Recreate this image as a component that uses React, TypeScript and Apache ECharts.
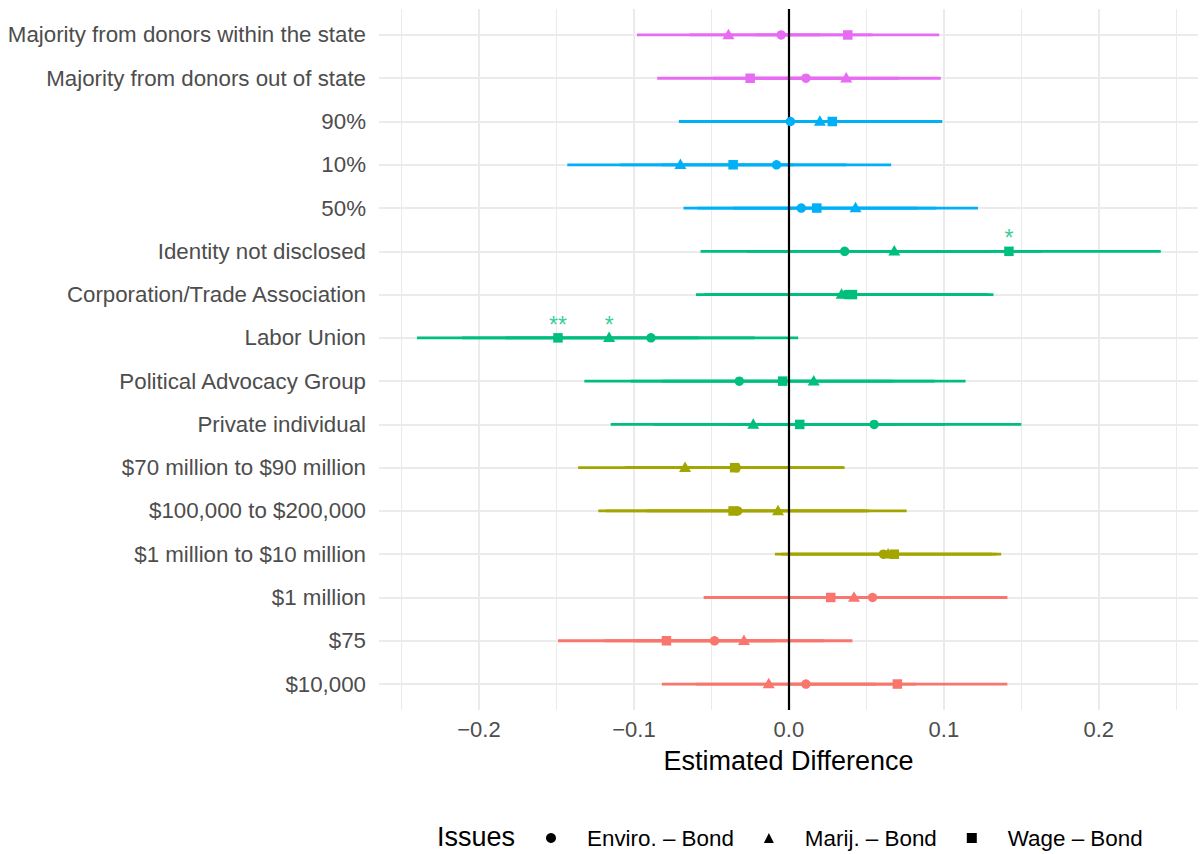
import React, { useEffect, useRef } from "react";
import * as echarts from "echarts";

// Rows, listed top to bottom
const rows = [
  "Majority from donors within the state",
  "Majority from donors out of state",
  "90%",
  "10%",
  "50%",
  "Identity not disclosed",
  "Corporation/Trade Association",
  "Labor Union",
  "Political Advocacy Group",
  "Private individual",
  "$70 million to $90 million",
  "$100,000 to $200,000",
  "$1 million to $10 million",
  "$1 million",
  "$75",
  "$10,000",
];
// Colour group of each row
const groupColors = ["#E76BF3", "#00B0F6", "#00BF7D", "#A3A500", "#F8766D"];
const rowGroup = [0, 0, 1, 1, 1, 2, 2, 2, 2, 2, 3, 3, 3, 4, 4, 4];

const issues = ["Enviro. – Bond", "Marij. – Bond", "Wage – Bond"];
const issueSymbols = ["circle", "triangle", "rect"];

// Enviro. – Bond
const enviroEst = [-0.005, 0.011, 0.001, -0.008, 0.008, 0.036, 0.037, -0.089, -0.032, 0.055, -0.034, -0.033, 0.061, 0.054, -0.048, 0.011];
const enviroLo = [-0.064, -0.049, -0.071, -0.082, -0.068, -0.057, -0.055, -0.183, -0.132, -0.040, -0.105, -0.118, -0.009, -0.032, -0.119, -0.060];
const enviroHi = [0.054, 0.071, 0.073, 0.066, 0.083, 0.129, 0.129, 0.006, 0.067, 0.150, 0.036, 0.052, 0.131, 0.141, 0.023, 0.082];
// Marij. – Bond
const marijEst = [-0.039, 0.037, 0.020, -0.070, 0.043, 0.068, 0.034, -0.116, 0.016, -0.023, -0.067, -0.007, 0.064, 0.042, -0.029, -0.013];
const marijLo = [-0.098, -0.024, -0.052, -0.143, -0.036, -0.027, -0.060, -0.211, -0.082, -0.115, -0.136, -0.092, -0.005, -0.043, -0.100, -0.082];
const marijHi = [0.020, 0.098, 0.092, 0.003, 0.122, 0.163, 0.128, -0.022, 0.114, 0.070, 0.002, 0.076, 0.134, 0.127, 0.041, 0.056];
// Wage – Bond
const wageEst = [0.038, -0.025, 0.028, -0.036, 0.018, 0.142, 0.041, -0.149, -0.004, 0.007, -0.035, -0.036, 0.068, 0.027, -0.079, 0.070];
const wageLo = [-0.021, -0.085, -0.043, -0.109, -0.059, 0.045, -0.051, -0.240, -0.102, -0.087, -0.106, -0.123, -0.001, -0.055, -0.149, -0.001];
const wageHi = [0.097, 0.035, 0.099, 0.037, 0.095, 0.240, 0.132, -0.058, 0.094, 0.101, 0.035, 0.050, 0.137, 0.110, -0.009, 0.141];

// Significance stars: [row index, issue index, stars]
const stars: [number, number, string][] = [
  [5, 2, "*"],
  [7, 2, "**"],
  [7, 1, "*"],
];

const xTicks = [-0.2, -0.1, 0, 0.1, 0.2];
const xMinor = [-0.25, -0.15, -0.05, 0.05, 0.15, 0.25];
const X_MIN = -0.2645;
const X_MAX = 0.264;

const FONT = "'Liberation Sans', Arial, Helvetica, sans-serif";

export default function App() {
  const ref = useRef<HTMLDivElement>(null);

  useEffect(() => {
    if (!ref.current) return;
    const chart = echarts.init(ref.current, undefined, { renderer: "svg" });
    const n = rows.length;
    const yOf = (i: number) => n - 1 - i;
    const ests = [enviroEst, marijEst, wageEst];
    const los = [enviroLo, marijLo, wageLo];
    const his = [enviroHi, marijHi, wageHi];

    const ciData: number[][] = [];
    for (let k = 0; k < 3; k++) {
      for (let i = 0; i < n; i++) {
        ciData.push([los[k][i], his[k][i], yOf(i), rowGroup[i]]);
      }
    }

    const pointSeries = [0, 1, 2].map((k) => ({
      name: issues[k],
      type: "scatter",
      symbol: issueSymbols[k],
      symbolSize: k === 1 ? [12, 10.5] : 9.5,
      symbolOffset: k === 1 ? [0, -1] : [0, 0],
      itemStyle: { color: "#000000", opacity: 1 },
      z: 10,
      silent: true,
      data: ests[k].map((v, i) => ({
        value: [v, yOf(i)],
        itemStyle: { color: groupColors[rowGroup[i]] },
      })),
    }));

    const option: any = {
      animation: false,
      textStyle: { fontFamily: FONT },
      grid: { left: 379, right: 2, top: 9, bottom: 144, containLabel: false },
      title: {
        text: "Issues",
        left: 437,
        top: 823,
        padding: 0,
        textStyle: { fontSize: 27, fontWeight: "normal", color: "#000", fontFamily: FONT },
      },
      legend: {
        data: issues.map((nm, k) => ({ name: nm, icon: issueSymbols[k] })),
        left: 546,
        top: 827,
        padding: 0,
        itemWidth: 10,
        itemHeight: 10,
        itemGap: 30,
        selectedMode: false,
        textStyle: { fontSize: 22.4, color: "#000", fontFamily: FONT, padding: [0, 0, 0, 26] },
      },
      xAxis: {
        type: "value",
        min: X_MIN,
        max: X_MAX,
        axisLine: { show: false },
        axisTick: { show: false },
        splitLine: { show: false },
        axisLabel: {
          customValues: xTicks,
          fontSize: 22,
          color: "#4D4D4D",
          margin: 8,
          fontFamily: FONT,
          formatter: (v: number) => v.toFixed(1).replace("-", "\u2212"),
        },
        name: "Estimated Difference",
        nameLocation: "middle",
        nameGap: 37,
        nameTextStyle: { fontSize: 27, color: "#000", fontFamily: FONT },
      },
      yAxis: {
        type: "value",
        min: -0.6,
        max: n - 1 + 0.6,
        axisLine: { show: false },
        axisTick: { show: false },
        splitLine: { show: false },
        axisLabel: {
          customValues: rows.map((_, i) => yOf(i)),
          fontSize: 22.3,
          color: "#4D4D4D",
          margin: 13,
          fontFamily: FONT,
          formatter: (v: number) => rows[n - 1 - Math.round(v)],
        },
      },
      series: [
        {
          type: "scatter",
          data: [],
          silent: true,
          z: 0,
          markLine: {
            silent: true,
            z: 0,
            symbol: ["none", "none"],
            label: { show: false },
            animation: false,
            data: [
              ...xMinor.map((v) => ({ xAxis: v, lineStyle: { color: "#EBEBEB", width: 1, type: "solid" } })),
              ...xTicks.map((v) => ({ xAxis: v, lineStyle: { color: "#EBEBEB", width: 2, type: "solid" } })),
              ...rows.map((_, i) => ({ yAxis: yOf(i), lineStyle: { color: "#EBEBEB", width: 2, type: "solid" } })),
            ],
          },
        },
        {
          type: "custom",
          silent: true,
          z: 3,
          encode: { x: [0, 1], y: 2 },
          data: ciData,
          renderItem: (params: any, api: any) => {
            const p1 = api.coord([api.value(0), api.value(2)]);
            const p2 = api.coord([api.value(1), api.value(2)]);
            return {
              type: "line",
              shape: { x1: p1[0], y1: p1[1], x2: p2[0], y2: p2[1] },
              style: { stroke: groupColors[api.value(3)], lineWidth: 2.8 },
            };
          },
        },
        {
          type: "scatter",
          data: [],
          silent: true,
          z: 5,
          markLine: {
            silent: true,
            z: 5,
            symbol: ["none", "none"],
            label: { show: false },
            animation: false,
            data: [{ xAxis: 0, lineStyle: { color: "#000000", width: 2.2, type: "solid" } }],
          },
        },
        ...pointSeries,
        {
          type: "scatter",
          silent: true,
          z: 11,
          symbolSize: 0,
          data: stars.map(([r, k, s]) => ({
            value: [ests[k][r], yOf(r)],
            label: {
              show: true,
              formatter: s,
              position: "inside",
              offset: [0, -13],
              fontSize: 23,
              color: groupColors[rowGroup[r]],
              fontFamily: FONT,
            },
          })),
        },
      ],
    };

    chart.setOption(option);
    return () => chart.dispose();
  }, []);

  return (
    <div
      ref={ref}
      style={{ position: "absolute", left: 0, top: 0, width: 1200, height: 854, background: "#fff" }}
    />
  );
}
